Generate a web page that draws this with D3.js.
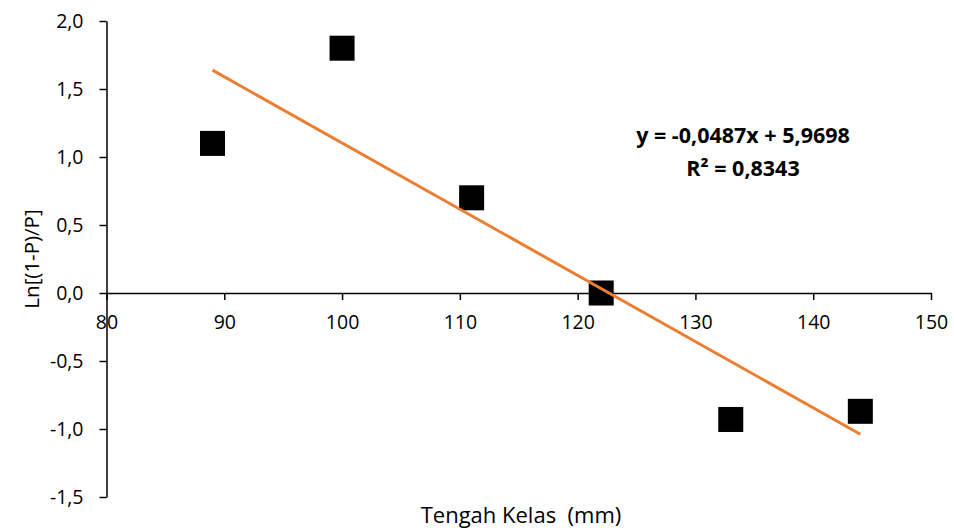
<!DOCTYPE html>
<html lang="id">
<head>
<meta charset="UTF-8">
<title>Ln[(1-P)/P] vs Tengah Kelas</title>
<script src="https://d3js.org/d3.v7.min.js"></script>
<style>
  body { margin: 0; background: #fff; }
  svg text { font-family: "Open Sans", sans-serif; fill: #000; }
</style>
</head>
<body>
<script>
    // data
    var tengahKelas = [89, 100, 111, 122, 133, 144];
    var lnValues = [1.10, 1.80, 0.70, 0.00, -0.93, -0.87];
    var xTicks = [80, 90, 100, 110, 120, 130, 140, 150];
    var yTicks = [-1.5, -1.0, -0.5, 0.0, 0.5, 1.0, 1.5, 2.0];
    var eqLines = ['y = -0,0487x + 5,9698', 'R² = 0,8343'];

    var W = 954, H = 532;
    var m = { top: 21, right: 23, bottom: 35, left: 106.5 };

    var svg = d3.select('body').append('svg')
        .attr('width', W)
        .attr('height', H);

    var x = d3.scaleLinear().domain([80, 150]).range([m.left, W - m.right]);
    var y = d3.scaleLinear().domain([-1.5, 2.0]).range([H - m.bottom, m.top]);

    // comma as decimal separator, plain hyphen for minus
    var loc = d3.formatLocale({ decimal: ',', thousands: '.', grouping: [3], currency: ['', ''], minus: '-' });
    var f1 = loc.format('.1f');

    var yAxis = d3.axisLeft(y).tickValues(yTicks).tickFormat(f1)
        .tickSize(7).tickSizeOuter(0).tickPadding(16);
    var xAxis = d3.axisBottom(x).tickValues(xTicks).tickFormat(d3.format('d'))
        .tickSize(7).tickSizeOuter(0).tickPadding(15);

    var gy = svg.append('g')
        .attr('transform', 'translate(' + x(80) + ',0)')
        .call(yAxis);
    var gx = svg.append('g')
        .attr('transform', 'translate(0,' + y(0) + ')')
        .call(xAxis);

    [gx, gy].forEach(function (g) {
        g.attr('font-size', null).attr('font-family', null);
        g.selectAll('path, line').attr('stroke', '#000').attr('stroke-width', 1.5);
        g.selectAll('text').style('font-size', '19.5px');
    });

    // markers
    var sz = 25;
    svg.append('g').selectAll('rect')
        .data(tengahKelas)
        .enter()
        .append('rect')
        .attr('x', function (d) { return x(d) - sz / 2; })
        .attr('y', function (d, i) { return y(lnValues[i]) - sz / 2; })
        .attr('width', sz)
        .attr('height', sz)
        .attr('fill', '#000');

    // linear trend line (least squares)
    var mx = d3.mean(tengahKelas), my = d3.mean(lnValues);
    var sxy = d3.sum(tengahKelas, function (d, i) { return (d - mx) * (lnValues[i] - my); });
    var sxx = d3.sum(tengahKelas, function (d) { return (d - mx) * (d - mx); });
    var slope = sxy / sxx, icpt = my - slope * mx;
    var ends = d3.extent(tengahKelas);

    svg.append('path')
        .datum(ends)
        .attr('d', d3.line()
            .x(function (d) { return x(d); })
            .y(function (d) { return y(slope * d + icpt); }))
        .attr('stroke', '#ED7D31')
        .attr('stroke-width', 3)
        .attr('fill', 'none');

    // equation label
    svg.append('g').selectAll('text')
        .data(eqLines)
        .enter()
        .append('text')
        .attr('x', 743)
        .attr('y', function (d, i) { return 143 + i * 33; })
        .attr('text-anchor', 'middle')
        .style('font-size', '21.5px')
        .style('font-weight', 'bold')
        .text(function (d) { return d; });

    // axis titles
    svg.append('text')
        .attr('x', 521)
        .attr('y', 523)
        .attr('text-anchor', 'middle')
        .style('font-size', '22px')
        .style('white-space', 'pre')
        .text('Tengah Kelas  (mm)');

    svg.append('text')
        .attr('transform', 'translate(39,' + (m.top + H - m.bottom) / 2 + ') rotate(-90)')
        .attr('text-anchor', 'middle')
        .style('font-size', '20.5px')
        .text('Ln[(1-P)/P]');
</script>
</body>
</html>
